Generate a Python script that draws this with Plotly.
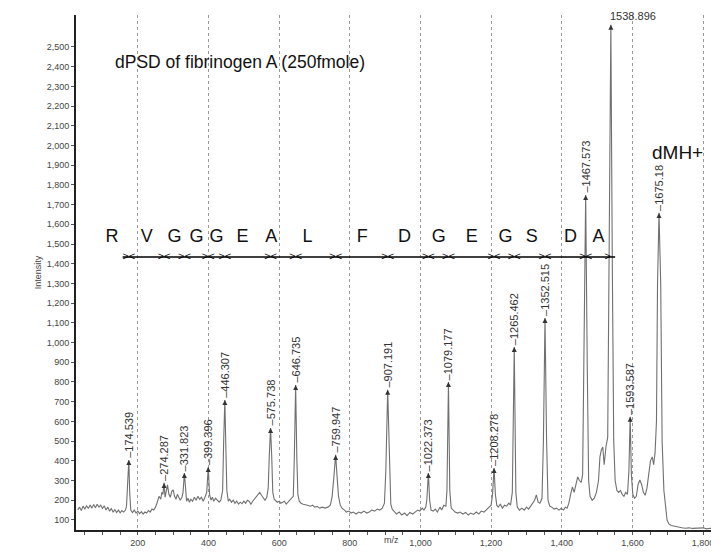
import plotly.graph_objects as go

# ---------------- data ----------------
spec_mz = [30, 35, 40, 45, 50, 55, 60, 65, 70, 75, 80, 85, 90, 95, 100, 105, 110, 115, 120, 125,
           130, 135, 140, 145, 150, 155, 160, 165, 168, 171, 174.5, 177, 180, 185, 190, 195, 200, 205,
           210, 215, 220, 225, 230, 235, 240, 245, 250, 255, 260, 265, 268, 271, 274.3, 277, 280, 284,
           288, 292, 296, 300, 304, 308, 312, 316, 320, 325, 328, 331.8, 335, 338, 342, 346, 350, 355,
           360, 365, 370, 375, 380, 385, 390, 395, 399.4, 403, 407, 411, 415, 420, 425, 430, 435, 440,
           443, 446.3, 449, 452, 456, 460, 465, 470, 475, 480, 485, 490, 495, 500, 505, 510, 515, 520,
           525, 530, 535, 540, 545, 550, 555, 560, 565, 569, 572, 575.7, 579, 582, 586, 590, 595, 600,
           605, 610, 615, 620, 625, 630, 635, 640, 643, 646.7, 650, 653, 657, 662, 668, 675, 680, 688,
           695, 700, 708, 715, 722, 730, 738, 745, 750, 755, 759.9, 764, 768, 773, 778, 785, 790, 797,
           804, 810, 818, 825, 832, 840, 848, 855, 862, 870, 878, 885, 892, 898, 902, 907.2, 912, 916,
           920, 926, 932, 940, 947, 955, 962, 970, 978, 985, 992, 998, 1005, 1010, 1015, 1018, 1022.4,
           1026, 1030, 1036, 1042, 1048, 1055, 1060, 1066, 1072, 1075, 1079.2, 1083, 1087, 1092, 1098,
           1105, 1112, 1120, 1128, 1135, 1142, 1150, 1158, 1165, 1172, 1180, 1188, 1195, 1200, 1204,
           1208.3, 1212, 1216, 1220, 1226, 1232, 1238, 1244, 1250, 1255, 1260, 1265.5, 1270, 1274, 1280,
           1287, 1294, 1300, 1306, 1312, 1318, 1323, 1328, 1333, 1338, 1344, 1348, 1352.5, 1357, 1361,
           1366, 1372, 1378, 1385, 1392, 1398, 1405, 1410, 1415, 1420, 1425, 1430, 1435, 1440, 1445,
           1450, 1455, 1459, 1463, 1467.6, 1472, 1476, 1480, 1486, 1492, 1498, 1504, 1508, 1512, 1516,
           1520, 1525, 1530, 1534, 1538.9, 1543, 1547, 1551, 1556, 1561, 1566, 1571, 1576, 1581, 1586,
           1590, 1593.6, 1597, 1601, 1606, 1611, 1616, 1621, 1626, 1631, 1636, 1641, 1646, 1651, 1656,
           1660, 1664, 1668, 1671, 1675.2, 1680, 1684, 1689, 1694, 1698, 1703, 1710, 1720, 1730, 1740,
           1750, 1760, 1770, 1780, 1790, 1800, 1810, 1820, 1830]
spec_int = [150, 165, 148, 170, 155, 172, 158, 176, 160, 178, 162, 180, 165, 175, 158, 172, 150, 165, 145, 158,
            140, 152, 138, 150, 136, 148, 140, 150, 170, 260, 404, 240, 150, 138, 150, 135, 145, 132,
            142, 130, 140, 135, 148, 140, 155, 150, 165, 190, 220, 205, 240, 230, 288, 215, 250, 278,
            230, 215, 245, 252, 220, 205, 230, 210, 200, 215, 240, 338, 230, 195, 210, 190, 205, 195,
            215, 200, 220, 205, 215, 195, 215, 240, 369, 230, 200, 215, 195, 210, 200, 190, 200, 250,
            500, 709, 480, 250, 195, 205, 190, 200, 185, 195, 180, 190, 182, 195, 185, 200, 195, 180,
            195, 205, 215, 230, 240, 225, 210, 200, 215, 260, 420, 567, 420, 240, 205, 200, 190, 195,
            185, 190, 195, 180, 190, 200, 210, 220, 420, 785, 420, 230, 195, 185, 180, 178, 175, 170,
            175, 165, 168, 160, 165, 160, 165, 175, 220, 320, 430, 320, 220, 175, 160, 150, 140, 145,
            135, 140, 130, 140, 135, 145, 135, 140, 150, 145, 155, 150, 160, 185, 350, 760, 350, 180,
            155, 145, 130, 140, 125, 135, 122, 138, 130, 140, 150, 145, 160, 150, 165, 200, 338,
            200, 150, 145, 155, 140, 165, 150, 175, 170, 250, 800, 250, 160, 150, 140,
            135, 140, 130, 138, 125, 135, 128, 140, 130, 145, 140, 155, 165, 175, 230,
            364, 230, 175, 165, 180, 160, 175, 170, 185, 175, 240, 978, 240, 165, 150,
            160, 150, 165, 155, 170, 185, 200, 227, 190, 185, 210, 500, 1125, 500, 200,
            170, 165, 155, 160, 150, 158, 150, 165, 160, 185, 230, 267, 240, 275, 318,
            300, 290, 330, 900, 1749, 900, 300, 220, 200, 210, 240, 300, 420, 455, 470,
            380, 470, 520, 1400, 2612, 1400, 500, 300, 250, 240, 250, 230, 220, 240, 230,
            350, 623, 330, 230, 210, 220, 280, 303, 280, 240, 225, 260, 330, 400, 420,
            380, 440, 600, 1300, 1658, 1300, 500, 250, 150, 100, 80, 72, 68, 62, 60,
            58, 60, 57, 58, 56, 60, 55, 58, 55]

peak_mz = [174.539, 274.287, 331.823, 399.396, 446.307, 575.738, 646.735, 759.947, 907.191,
           1022.373, 1079.177, 1208.278, 1265.462, 1352.515, 1467.573, 1538.896, 1593.587, 1675.18]
peak_int = [404, 288, 338, 369, 709, 567, 785, 430, 760,
            338, 800, 364, 978, 1125, 1749, 2612, 623, 1658]
peak_txt = ["174.539", "274.287", "331.823", "399.396", "446.307", "575.738", "646.735", "759.947",
            "907.191", "1022.373", "1079.177", "1208.278", "1265.462", "1352.515", "1467.573",
            "1538.896", "1593.587", "1675.18"]

residues = ["R", "V", "G", "G", "G", "E", "A", "L", "F", "D", "G", "E", "G", "S", "D", "A"]
residue_mz = [127, 225, 304, 366, 423, 496, 578, 680, 835, 955, 1052, 1145, 1241, 1315, 1425, 1504]
residue_y = 1531

ladder_bounds = [174.539, 274.287, 331.823, 399.396, 446.307, 575.738, 646.735, 759.947, 907.191,
                 1022.373, 1079.177, 1208.278, 1265.462, 1352.515, 1467.573]
ladder_end_bound = 1538.896
ladder_start, ladder_stop = 157, 1551
ladder_y = 1434

x_ticks = [200, 400, 600, 800, 1000, 1200, 1400, 1600, 1800]
y_ticks = [100, 200, 300, 400, 500, 600, 700, 800, 900, 1000, 1100, 1200, 1300,
           1400, 1500, 1600, 1700, 1800, 1900, 2000, 2100, 2200, 2300, 2400, 2500]

title_txt = "dPSD of fibrinogen A (250fmole)"
mh_txt = "dMH+"
x_title = "m/z"
y_title = "Intensity"

FONT = "Arial, Liberation Sans, sans-serif"

fig = go.Figure()

# spectrum
fig.add_trace(go.Scatter(x=spec_mz, y=spec_int, mode="lines",
                         line=dict(color="#707070", width=1.1), hoverinfo="skip"))

# peak tip markers
fig.add_trace(go.Scatter(x=peak_mz, y=peak_int, mode="markers",
                         marker=dict(symbol="arrow-up", size=5, color="#333333"),
                         cliponaxis=False, hoverinfo="skip"))

# sequence ladder
fig.add_trace(go.Scatter(x=[ladder_start, ladder_stop], y=[ladder_y, ladder_y], mode="lines",
                         line=dict(color="#000000", width=1.5), hoverinfo="skip"))
fig.add_trace(go.Scatter(x=ladder_bounds, y=[ladder_y] * len(ladder_bounds), mode="text",
                         text=["><"] * len(ladder_bounds), textposition="middle center",
                         textfont=dict(family=FONT, size=11, color="#000000"), hoverinfo="skip"))
fig.add_trace(go.Scatter(x=[ladder_end_bound], y=[ladder_y], mode="text", text=[">"],
                         textposition="middle left",
                         textfont=dict(family=FONT, size=11, color="#000000"), hoverinfo="skip"))
fig.add_trace(go.Scatter(x=residue_mz, y=[residue_y] * len(residues), mode="text", text=residues,
                         textposition="middle center",
                         textfont=dict(family=FONT, size=18, color="#111111"), hoverinfo="skip"))

# peak labels
for mz, it, t in zip(peak_mz, peak_int, peak_txt):
    if t == "1538.896":
        fig.add_annotation(x=mz, y=it, text=t, showarrow=False, xanchor="left", yanchor="bottom",
                           xshift=-3, yshift=1, font=dict(family=FONT, size=11, color="#333333"))
    else:
        fig.add_annotation(x=mz, y=it, text="\u2013" + t, showarrow=False, textangle=-90,
                           xanchor="center", yanchor="bottom", yshift=0,
                           font=dict(family=FONT, size=11, color="#333333"))

fig.add_annotation(x=129.5, y=2424, text=title_txt, showarrow=False, xanchor="left",
                   yanchor="middle", font=dict(family=FONT, size=17.5, color="#111111"))
fig.add_annotation(x=1727, y=1962, text=mh_txt, showarrow=False, xanchor="center",
                   yanchor="middle", font=dict(family=FONT, size=19, color="#111111"))
fig.add_annotation(xref="paper", yref="paper", x=0.49, y=-0.019, text=x_title, showarrow=False,
                   xanchor="center", yanchor="middle", font=dict(family=FONT, size=9, color="#444444"))

fig.update_layout(
    width=711, height=541,
    margin=dict(l=68, r=0, t=7, b=19),
    paper_bgcolor="white", plot_bgcolor="white",
    showlegend=False,
    font=dict(family=FONT, color="#444444"),
    xaxis=dict(range=[25, 1845], tickvals=x_ticks, tickformat=",", showgrid=True,
               gridcolor="#9a9a9a", griddash="dot", gridwidth=1, zeroline=False,
               showline=True, linecolor="#222222", linewidth=2,
               ticks="outside", ticklen=3, tickcolor="#555555",
               minor=dict(dtick=50, ticks="outside", ticklen=3, tickcolor="#555555", showgrid=False),
               tickfont=dict(size=9, color="#444444"), ticklabeloverflow="allow",
               automargin=False),
    yaxis=dict(range=[49, 2662], tickvals=y_ticks, tickformat=",", showgrid=False, zeroline=False,
               showline=True, linecolor="#222222", linewidth=2,
               ticks="outside", ticklen=3, tickcolor="#555555",
               tickfont=dict(size=9, color="#444444"),
               title=dict(text=y_title, font=dict(size=9, color="#444444"), standoff=4),
               automargin=False),
)

fig.write_html("out.html")
